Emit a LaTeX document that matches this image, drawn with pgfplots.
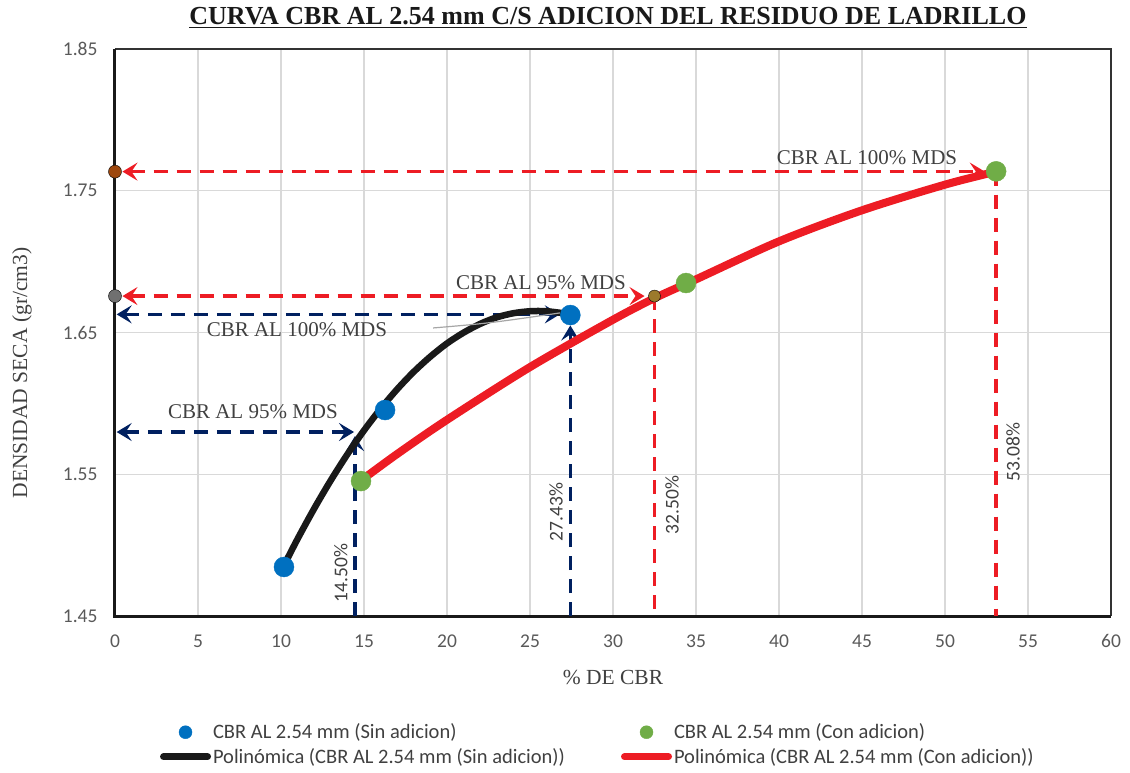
\documentclass[border=0pt]{standalone}
\usepackage{fontspec}
\setmainfont{Liberation Serif}
\newfontfamily\calibri{Carlito}
\usepackage{graphicx}
\usepackage{pgfplots}
\pgfplotsset{compat=1.18}
\usetikzlibrary{arrows.meta}
\definecolor{cblue}{HTML}{0070C0}
\definecolor{cgreen}{HTML}{70AD47}
\definecolor{cred}{HTML}{ED1C24}
\definecolor{cnavy}{HTML}{002060}
\definecolor{cbrown}{HTML}{9E480E}
\definecolor{cgreydot}{HTML}{707070}
\definecolor{colive}{HTML}{9C7A2C}
\definecolor{txtgray}{HTML}{404040}
\definecolor{tickgray}{HTML}{595959}
\definecolor{gridgray}{HTML}{D9D9D9}
\tikzset{
  myarrow/.style={line width=3.5pt, dash pattern=on 14pt off 9pt},
  tip/.tip={Stealth[length=15pt,width=18pt,inset=6pt]}
}
\begin{document}
\begin{tikzpicture}
\path[use as bounding box] (0,0) rectangle (1130pt,772pt);
\begin{axis}[
  at={(115pt,156pt)}, anchor=south west,
  scale only axis, width=996pt, height=567pt,
  xmin=0, xmax=60, ymin=1.45, ymax=1.85,
  xtick={0,5,10,15,20,25,30,35,40,45,50,55,60},
  ytick={1.45,1.55,1.65,1.75,1.85},
  yticklabel style={/pgf/number format/fixed, /pgf/number format/fixed zerofill, /pgf/number format/precision=2, /tikz/xshift=-14pt},
  grid=major, major grid style={gridgray, line width=1.3pt},
  major tick length=0pt,
  axis line style={draw=none},
  clip=false,
  /pgf/number format/assume math mode=true,
  tick label style={font=\calibri\fontsize{19.5}{22}\selectfont, text=tickgray},
  xticklabel style={/tikz/yshift=-15pt},
  xlabel={\% DE CBR},
  ylabel={DENSIDAD SECA (gr/cm3)},
  label style={font=\fontsize{21.5}{25}\selectfont, text=txtgray},
  xlabel style={at={(axis description cs:0.5,-0.1076)}, anchor=center},
  ylabel style={at={(axis description cs:-0.0934,0.4286)}, anchor=center},
  title={\underline{CURVA CBR AL 2.54 mm C/S ADICION DEL RESIDUO DE LADRILLO}},
  title style={at={(axis description cs:0.495,1.0318)}, anchor=base, font=\bfseries\fontsize{26}{30}\selectfont, text=black!90},
  legend columns=2,
  legend cell align=left,
  legend style={draw=none, fill=none, at={(0.042,-0.183)}, anchor=north west,
    font=\calibri\fontsize{20.5}{23}\selectfont, text=txtgray, row sep=4pt,
    /tikz/every even column/.append style={column sep=54pt}},
]
\addlegendimage{legend image code/.code={\path[draw=none, fill=none] (0pt,0pt) -- (50pt,0pt); \fill[cblue] (25pt,0pt) circle (6.5pt);}}
\addlegendentry{CBR AL 2.54 mm (Sin adicion)}
\addlegendimage{legend image code/.code={\path[draw=none, fill=none] (0pt,0pt) -- (50pt,0pt); \fill[cgreen] (25pt,0pt) circle (6.5pt);}}
\addlegendentry{CBR AL 2.54 mm (Con adicion)}
\addlegendimage{legend image code/.code={\draw[line width=7pt, black!90, line cap=round] (3pt,0pt) -- (47pt,0pt);}}
\addlegendentry{Polinómica (CBR AL 2.54 mm (Sin adicion))}
\addlegendimage{legend image code/.code={\draw[line width=7pt, cred, line cap=round] (3pt,0pt) -- (47pt,0pt);}}
\addlegendentry{Polinómica (CBR AL 2.54 mm (Con adicion))}

% frame
\draw[line width=2.5pt, draw=black!80] (rel axis cs:0,1) -- (rel axis cs:1,1) -- (rel axis cs:1,0);
\draw[line width=3pt, black!90] (rel axis cs:0,1) -- (rel axis cs:0,0) -- (rel axis cs:1,0);

% data points
\addplot[forget plot, only marks, mark=*, mark size=10pt, cblue, mark options={draw=none, fill=cblue}]
  coordinates {(10.18,1.4846) (16.27,1.5953) (27.43,1.6623)};
\addplot[forget plot, only marks, mark=*, mark size=10pt, cgreen, mark options={draw=none, fill=cgreen}]
  coordinates {(14.82,1.5452) (34.40,1.6849) (53.08,1.7637)};

% dashed reference arrows
\addplot[forget plot, cred, myarrow, {tip}-{tip}] coordinates {(0.45,1.7635) (52.4,1.7635)};
\addplot[forget plot, cred, myarrow] coordinates {(53.08,1.7635) (53.08,1.45)};
\addplot[forget plot, cred, myarrow, {tip}-{tip}] coordinates {(0.45,1.6757) (31.9,1.6757)};
\addplot[forget plot, cred, myarrow] coordinates {(32.5,1.6757) (32.5,1.45)};
\addplot[forget plot, cnavy, myarrow, {tip}-{tip}] coordinates {(0.1,1.6628) (26.8,1.6628)};
\addplot[forget plot, cnavy, myarrow, -{tip}] coordinates {(27.43,1.45) (27.43,1.655)};
\addplot[forget plot, cnavy, myarrow, {tip}-{tip}] coordinates {(0.1,1.5798) (14.4,1.5798)};
\addplot[forget plot, cnavy, myarrow, -{tip}] coordinates {(14.46,1.45) (14.46,1.577)};

% small dots
\addplot[forget plot, only marks, mark=*, mark size=6.5pt, mark options={draw=none, fill=cbrown}] coordinates {(0,1.7635)};
\addplot[forget plot, only marks, mark=*, mark size=6.5pt, mark options={draw=none, fill=cgreydot}] coordinates {(0,1.6757)};
\addplot[forget plot, only marks, mark=*, mark size=6pt, mark options={draw=none, fill=colive}] coordinates {(32.5,1.6757)};

% trend curves
\addplot[forget plot, smooth, black!90, line width=6.5pt, line cap=round] coordinates {
  (10.14,1.4848) (11,1.5044) (12,1.5258) (13,1.5457) (14,1.5641) (15,1.5809)
  (16,1.5962) (17,1.6100) (18,1.6223) (19,1.6330) (20,1.6423) (21,1.6499)
  (22,1.6561) (23,1.6607) (24,1.6636) (25,1.6650) (26,1.6650) (27.41,1.6630)};
\addplot[forget plot, smooth, cred, line width=8pt, line cap=round] coordinates {
  (14.82,1.5456) (17,1.5643) (20,1.5884) (25,1.6256) (30,1.6590) (32.5,1.6742)
  (35,1.6875) (40,1.7143) (45,1.7362) (50,1.7543) (53.08,1.7635)};

% leader line
\draw[line width=1.2pt, gray!70] (axis cs:19.16,1.6532) .. controls (axis cs:22.5,1.6565) .. (axis cs:26.8,1.6638);

% annotations
\begin{scope}[every node/.style={font=\fontsize{21}{25}\selectfont, text=txtgray}]
\node at (axis cs:45.3,1.7731) {CBR AL 100\% MDS};
\node at (axis cs:25.66,1.6849) {CBR AL 95\% MDS};
\node at (axis cs:10.96,1.6518) {CBR AL 100\% MDS};
\node at (axis cs:8.31,1.5939) {CBR AL 95\% MDS};
\end{scope}
\begin{scope}[every node/.style={font=\calibri\fontsize{19.5}{22}\selectfont, text=txtgray, rotate=90}]
\node at (axis cs:13.61,1.4803) {14.50\%};
\node at (axis cs:26.57,1.5234) {27.43\%};
\node at (axis cs:33.55,1.5283) {32.50\%};
\node at (axis cs:54.10,1.5657) {53.08\%};
\end{scope}
\end{axis}
\end{tikzpicture}
\end{document}
